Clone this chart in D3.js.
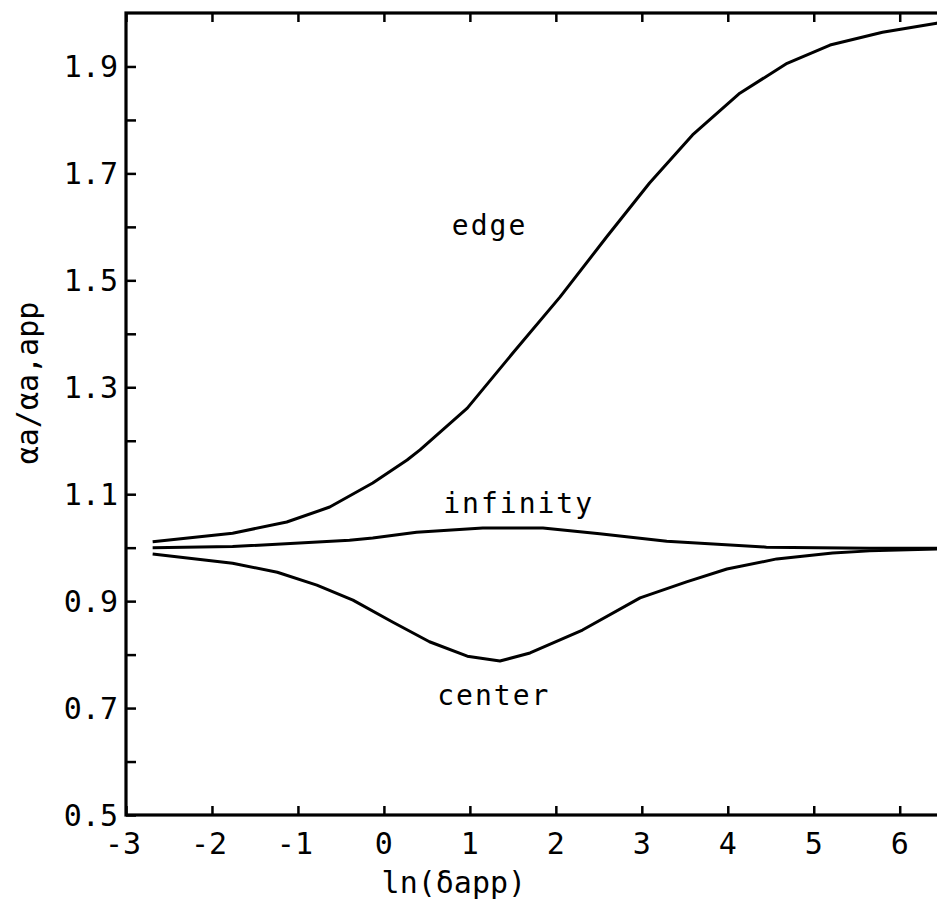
<!DOCTYPE html>
<html>
<head>
<meta charset="utf-8">
<script src="https://cdn.jsdelivr.net/npm/d3@7"></script>
<style>
  body { margin: 0; background: #fff; }
  text { font-family: "DejaVu Sans Mono", monospace; fill: #000; }
</style>
</head>
<body>
<svg id="chart" width="937" height="907"></svg>
<script>
// curve values
var edgeX = [-2.69, -1.76, -1.13, -0.63, -0.13, 0.27, 0.42, 0.97, 1.50, 2.05, 2.59, 3.09, 3.59, 4.14, 4.69, 5.19, 5.80, 6.43, 6.55];
var edgeY = [1.011, 1.027, 1.048, 1.076, 1.121, 1.164, 1.183, 1.261, 1.364, 1.469, 1.581, 1.682, 1.772, 1.850, 1.906, 1.940, 1.964, 1.981, 1.984];

var infX = [-2.69, -1.76, -0.40, -0.13, 0.38, 1.15, 1.85, 2.51, 3.29, 4.45, 5.65, 6.55];
var infY = [1.000, 1.002, 1.014, 1.018, 1.029, 1.037, 1.037, 1.026, 1.012, 1.001, 0.999, 0.999];

var centerX = [-2.69, -1.76, -1.24, -0.78, -0.36, 0.10, 0.53, 0.97, 1.35, 1.70, 2.31, 2.98, 3.52, 3.99, 4.57, 5.22, 5.65, 6.55];
var centerY = [0.988, 0.971, 0.954, 0.930, 0.902, 0.861, 0.824, 0.797, 0.788, 0.803, 0.846, 0.906, 0.936, 0.960, 0.979, 0.990, 0.994, 0.998];

var seriesNames = ['edge', 'infinity', 'center'];
var labelX = [0.79, 0.69, 0.62];
var labelY = [1.585, 1.065, 0.706];

var xTicks = [-3, -2, -1, 0, 1, 2, 3, 4, 5, 6];
var yTicks = [0.5, 0.6, 0.7, 0.8, 0.9, 1.0, 1.1, 1.2, 1.3, 1.4, 1.5, 1.6, 1.7, 1.8, 1.9];
var yTickLabels = [0.5, 0.7, 0.9, 1.1, 1.3, 1.5, 1.7, 1.9];

var svg = d3.select('#chart');

// plot box edges in pixels (right edge sits just past the window)
var box = {l: 126, r: 947, t: 13, b: 815};

var xScale = d3.scaleLinear().domain([-3, 6.55]).range([box.l, box.r]);
var yScale = d3.scaleLinear().domain([0.5, 2.0]).range([box.b, box.t]);

var series = [
    {x: edgeX, y: edgeY},
    {x: infX, y: infY},
    {x: centerX, y: centerY}
];

var line = d3.line()
    .x(function(d) { return xScale(d[0]); })
    .y(function(d) { return yScale(d[1]); });

// curves
series.forEach(function(s) {
    var pts = s.x.map(function(v, i) { return [v, s.y[i]]; });
    svg.append('path')
        .datum(pts)
        .attr('d', line)
        .attr('fill', 'none')
        .attr('stroke', '#000')
        .attr('stroke-width', 3)
        .attr('stroke-linejoin', 'round');
});

// frame
svg.append('rect')
    .attr('x', box.l).attr('y', box.t)
    .attr('width', box.r - box.l).attr('height', box.b - box.t)
    .attr('fill', 'none')
    .attr('stroke', '#000')
    .attr('stroke-width', 3.2);

// inward ticks on all four sides
var bottomAxis = d3.axisTop(xScale).tickValues(xTicks).tickSize(9).tickFormat('');
var topAxis = d3.axisBottom(xScale).tickValues(xTicks).tickSize(9).tickFormat('');
var leftAxis = d3.axisRight(yScale).tickValues(yTicks).tickSize(10).tickFormat('');
var rightAxis = d3.axisLeft(yScale).tickValues(yTicks).tickSize(10).tickFormat('');

function styleAxis(g) {
    g.select('.domain').remove();
    g.selectAll('.tick line').attr('stroke', '#000').attr('stroke-width', 2.5);
}

svg.append('g').attr('transform', 'translate(0,' + box.b + ')').call(bottomAxis).call(styleAxis);
svg.append('g').attr('transform', 'translate(0,' + box.t + ')').call(topAxis).call(styleAxis);
svg.append('g').attr('transform', 'translate(' + box.l + ',0)').call(leftAxis).call(styleAxis);
svg.append('g').attr('transform', 'translate(' + box.r + ',0)').call(rightAxis).call(styleAxis);

// tick labels
svg.selectAll('.xlab')
    .data(xTicks)
    .enter().append('text')
    .attr('class', 'xlab')
    .attr('x', function(d) { return xScale(d) - (d < 0 ? 3 : 0); })
    .attr('y', 854)
    .attr('text-anchor', 'middle')
    .attr('font-size', 30)
    .text(function(d) { return d; });

svg.selectAll('.ylab')
    .data(yTickLabels)
    .enter().append('text')
    .attr('class', 'ylab')
    .attr('x', box.l - 8)
    .attr('y', function(d) { return yScale(d) + 11; })
    .attr('text-anchor', 'end')
    .attr('font-size', 30)
    .text(function(d) { return d.toFixed(1); });

// axis titles
svg.append('text')
    .attr('x', (xScale(0) + xScale(2)) / 2 - 16)
    .attr('y', 893)
    .attr('text-anchor', 'middle')
    .attr('font-size', 30)
    .text('ln(δapp)');

svg.append('text')
    .attr('transform', 'translate(38,383) rotate(-90)')
    .attr('text-anchor', 'middle')
    .attr('font-size', 30)
    .text('αa/αa,app');

// curve labels
svg.selectAll('.clab')
    .data(seriesNames)
    .enter().append('text')
    .attr('class', 'clab')
    .attr('x', function(d, i) { return xScale(labelX[i]); })
    .attr('y', function(d, i) { return yScale(labelY[i]); })
    .attr('font-size', 28)
    .attr('letter-spacing', 2)
    .text(function(d) { return d; });
</script>
</body>
</html>
